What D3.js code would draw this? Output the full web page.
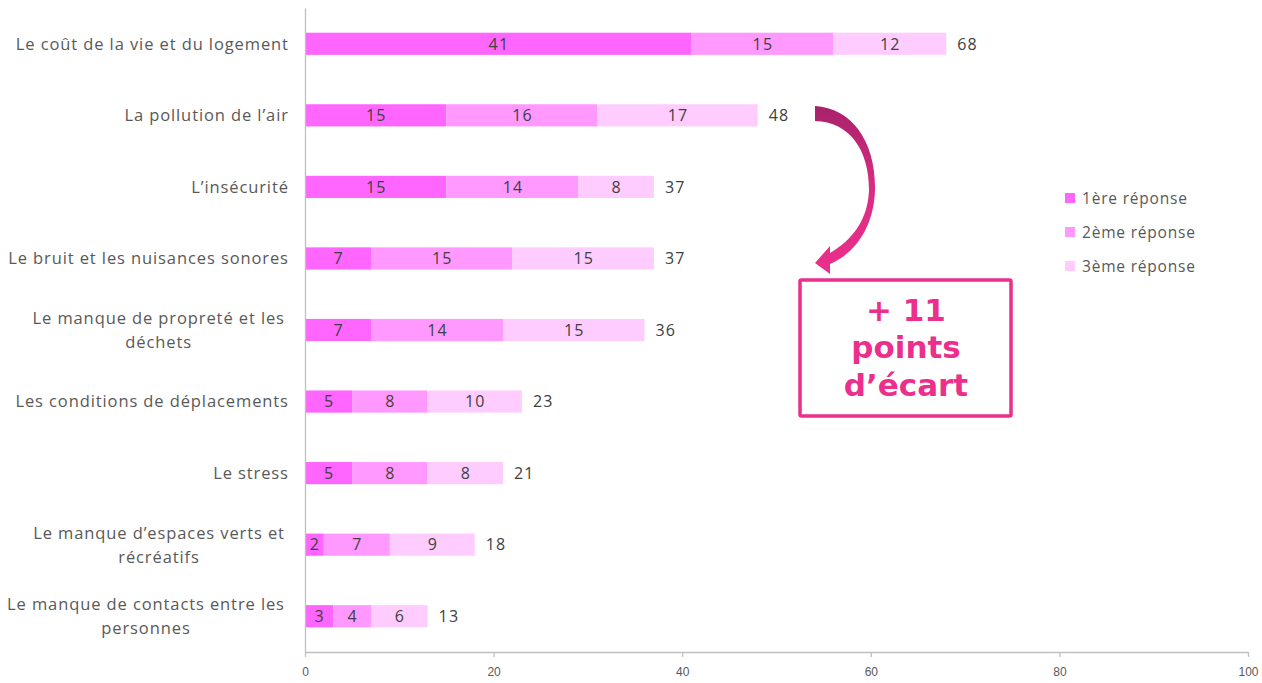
<!DOCTYPE html>
<html><head><meta charset="utf-8">
<script src="https://cdn.jsdelivr.net/npm/d3@7"></script>
<style>
html,body{margin:0;padding:0;background:#fff;}
svg{display:block;}
</style></head>
<body>
<svg id="chart" width="1262" height="683"></svg>
<script>
const categories = [
  "Le coût de la vie et du logement",
  "La pollution de l’air",
  "L’insécurité",
  "Le bruit et les nuisances sonores",
  "Le manque de propreté et les\ndéchets",
  "Les conditions de déplacements",
  "Le stress",
  "Le manque d’espaces verts et\nrécréatifs",
  "Le manque de contacts entre les\npersonnes"
];
const first = [41, 15, 15, 7, 7, 5, 5, 2, 3];
const second = [15, 16, 14, 15, 14, 8, 8, 7, 4];
const third = [12, 17, 8, 15, 15, 10, 8, 9, 6];
const totals = [68, 48, 37, 37, 36, 23, 21, 18, 13];
const seriesNames = ["1ère réponse", "2ème réponse", "3ème réponse"];
const seriesColors = ["#FF66FF", "#FF99FF", "#FFCCFF"];
const xTicks = [0, 20, 40, 60, 80, 100];
const annotationLines = ["+ 11", "points", "d’écart"];

const svg = d3.select("#chart");
const labelFont = "'Open Sans', Lato, sans-serif";

const x = d3.scaleLinear().domain([0, 100]).range([305, 1248]);
const y = d3.scaleBand().domain(categories).range([8, 652]).paddingInner(0.69).paddingOuter(0.345);

// stacked data
const rows = categories.map((c, i) => ({cat: c, v: [first[i], second[i], third[i]], total: totals[i]}));
const stack = d3.stack().keys([0, 1, 2]).value((d, k) => d.v[k]);
const stacked = stack(rows);

const gBars = svg.append("g");
stacked.forEach((layer, k) => {
  const g = gBars.append("g").attr("fill", seriesColors[k]);
  g.selectAll("rect").data(layer).join("rect")
    .attr("x", d => x(d[0]))
    .attr("y", d => y(d.data.cat))
    .attr("width", d => x(d[1]) - x(d[0]))
    .attr("height", y.bandwidth());
  g.selectAll("text").data(layer).join("text")
    .attr("x", d => (x(d[0]) + x(d[1])) / 2 + 0.6)
    .attr("y", d => y(d.data.cat) + y.bandwidth() / 2)
    .attr("dy", "0.36em")
    .attr("text-anchor", "middle")
    .attr("fill", "#404040")
    .style("font-family", labelFont)
    .style("font-size", "16px")
    .style("letter-spacing", "1.2px")
    .text(d => d.data.v[k]);
});

// totals
svg.append("g").selectAll("text").data(rows).join("text")
  .attr("x", d => x(d.total) + 11)
  .attr("y", d => y(d.cat) + y.bandwidth() / 2)
  .attr("dy", "0.36em")
  .attr("fill", "#404040")
  .style("font-family", labelFont)
  .style("font-size", "16px")
  .style("letter-spacing", "1.2px")
  .text(d => d.total);

// x axis
const xAxis = d3.axisBottom(x).tickValues(xTicks).tickSize(5).tickSizeOuter(0);
const gx = svg.append("g").attr("transform", "translate(0,652)").call(xAxis);
gx.select(".domain").attr("stroke", "#BFBFBF").attr("stroke-width", 1.3);
gx.selectAll(".tick line").attr("stroke", "#BFBFBF").attr("stroke-width", 1.3);
gx.selectAll(".tick text")
  .attr("fill", "#595959")
  .attr("y", 15)
  .style("font-family", "'Liberation Sans Narrow', 'Arial Narrow', sans-serif")
  .style("font-size", "12px");

// y axis line
const yAxis = d3.axisLeft(y).tickSize(0).tickFormat("");
const gy = svg.append("g").attr("transform", "translate(305,0)").call(yAxis);
gy.select(".domain").attr("stroke", "#BFBFBF").attr("stroke-width", 1.3);

// category labels
const gl = svg.append("g");
categories.forEach(c => {
  const lines = c.split("\n");
  const cy = y(c) + y.bandwidth() / 2;
  const t = gl.append("text")
    .attr("fill", "#595959")
    .style("font-family", labelFont)
    .style("font-size", "16.5px")
    .style("letter-spacing", "0.9px");
  const lh = 24;
  lines.forEach((ln, i) => {
    t.append("tspan").attr("x", 0).attr("y", cy + (i - (lines.length - 1) / 2) * lh).attr("dy", "0.36em").text(ln);
  });
  const widths = [];
  t.selectAll("tspan").each(function(){ widths.push(this.getComputedTextLength()); });
  const maxW = d3.max(widths);
  const right = (lines.length > 1 ? 284 : 288) + 0.9;
  t.selectAll("tspan").attr("x", right - maxW / 2).attr("text-anchor", "middle");
});

// legend
const lg = svg.append("g");
seriesNames.forEach((n, i) => {
  const ly = 198 + i * 34;
  lg.append("rect").attr("x", 1065).attr("y", ly - 5).attr("width", 10).attr("height", 10).attr("fill", seriesColors[i]);
  lg.append("text").attr("x", 1082).attr("y", ly).attr("dy", "0.36em")
    .attr("fill", "#595959")
    .style("font-family", labelFont)
    .style("font-size", "15.5px")
    .style("letter-spacing", "0.8px")
    .text(n);
});

// curved arrow annotation
const defs = svg.append("defs");
const grad = defs.append("linearGradient").attr("id", "arrowGrad")
  .attr("gradientUnits", "userSpaceOnUse").attr("x1", 0).attr("y1", 106).attr("x2", 0).attr("y2", 274);
grad.append("stop").attr("offset", 0).attr("stop-color", "#A8226A");
grad.append("stop").attr("offset", 0.5).attr("stop-color", "#DA2C84");
grad.append("stop").attr("offset", 1).attr("stop-color", "#EC2F8C");
svg.append("path")
  .attr("d", "M815,106 C852,108 876,142 875,190 C874,226 856,253 830,264 L830,274 L815,263 L830,246 L830,253 C852,240 868,220 869,190 C869,150 850,122 815,121 Z")
  .attr("fill", "url(#arrowGrad)");

// annotation box
svg.append("rect").attr("x", 800).attr("y", 280).attr("width", 211).attr("height", 136)
  .attr("fill", "none").attr("stroke", "#EC2F8C").attr("stroke-width", 3.5).attr("rx", 1.5);
const baselines = [321, 358, 396];
annotationLines.forEach((ln, i) => {
  svg.append("text").attr("x", 906).attr("y", baselines[i])
    .attr("text-anchor", "middle")
    .attr("fill", "#EC2F8C")
    .style("font-family", "'DejaVu Sans', Verdana, sans-serif")
    .style("font-weight", "bold")
    .style("font-size", "31px")
    .text(ln);
});
</script>
</body></html>
